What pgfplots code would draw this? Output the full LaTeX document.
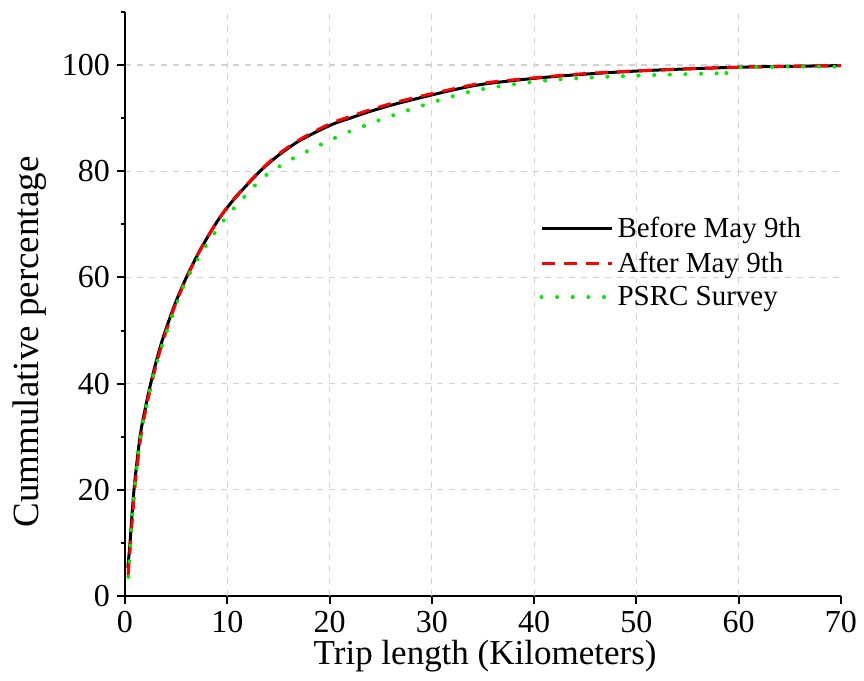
\documentclass[border=0pt]{standalone}
\usepackage{fontspec}
\setmainfont{Liberation Serif}
\usepackage{pgfplots}
\pgfplotsset{compat=1.18}
\definecolor{psrc}{RGB}{0,235,0}
\begin{document}
\begin{tikzpicture}
\begin{axis}[
  scale only axis,
  width=358pt, height=292pt,
  xmin=0, xmax=70, ymin=0, ymax=110,
  axis x line*=bottom, axis y line*=left,
  axis line style={-, line width=1pt},
  xtick={0,10,...,70}, ytick={0,20,...,100},
  minor ytick={10,30,...,110},
  tick align=outside,
  major tick length=4pt, minor tick length=2pt,
  tick style={line width=1pt, black},
  xmajorgrids=false, ymajorgrids=true,
  extra x ticks={10,20,...,60},
  extra x tick labels={},
  extra x tick style={xmajorgrids=true, major tick length=0pt},
  major grid style={dashed, gray!35, line width=0.6pt},
  /pgf/number format/assume math mode=true,
  ticklabel style={font=\fontsize{16}{18}\selectfont},
  xlabel={Trip length (Kilometers)},
  ylabel={Cummulative percentage},
  xlabel style={font=\fontsize{17.5}{20}\selectfont, at={(axis description cs:0.503,-0.103)}, anchor=center},
  ylabel style={font=\fontsize{18.5}{21}\selectfont, at={(axis description cs:-0.133,0.435)}, anchor=center},
  legend style={draw=none, fill=none, at={(0.57,0.663)}, anchor=north west,
    font=\fontsize{14.5}{17}\selectfont, row sep=1.5pt},
  legend cell align=left,
  legend image code/.code={\draw[#1] (0pt,0pt) -- (35pt,0pt);},
]
\addplot[black, line width=1.5pt, smooth, tension=0.5] coordinates {
(0.28,5.3) (0.49,10) (0.88,20) (1.47,30) (2.0,35.5) (2.51,40) (3.1,44.5) (3.75,48.8)
(4.89,55) (6.0,60) (7.3,65) (9.0,70.5) (10.6,74.6) (13.2,80) (15,83) (17.1,85.8)
(20.1,88.7) (22,90.0) (24,91.3) (26.9,92.9) (31.8,95.2) (35,96.4) (40,97.5) (45,98.3)
(51.3,99.0) (60,99.6) (70,99.9)};
\addlegendentry{Before May 9th}
\addplot[red, line width=1.5pt, dash pattern=on 6.5pt off 4.5pt, smooth, tension=0.5] coordinates {
(0.3,3.8) (0.55,10) (0.95,20) (1.55,30) (2.08,35.5) (2.6,40) (3.18,44.5) (3.85,48.8)
(4.95,55) (6.05,60) (7.3,65) (9.0,70.5) (10.6,74.7) (13.2,80.1) (15,83.2) (17.1,86.0)
(20.1,89.0) (22,90.3) (24,91.6) (26.9,93.2) (31.8,95.4) (35,96.6) (40,97.6) (45,98.4)
(51.3,99.0) (60,99.6) (70,99.9)};
\addlegendentry{After May 9th}
\addplot[psrc, line width=2pt, line cap=round, dash pattern=on 0.01pt off 7.8pt, smooth, tension=0.5] coordinates {
(0.33,3.6) (0.55,10) (0.92,20) (1.5,30) (2.03,35.3) (2.55,40) (3.15,44.2) (3.85,48.5)
(4.95,54.6) (6.0,59.5) (7.65,65.2) (9.45,70.2) (10.6,72.9) (13.2,78.3) (15,80.8)
(17,83) (20.1,85.9) (22.5,87.9) (26.9,91.0) (31.8,94.0) (35,95.5) (40.1,96.9)
(45,97.6) (51.3,98.1) (55,98.3) (58.8,98.5)};
\addlegendentry{PSRC Survey}
\addplot[psrc, line width=2pt, line cap=round, dash pattern=on 0.01pt off 7.8pt, forget plot] coordinates {
(58.8,98.5) (60,99.6) (65,99.7) (69.4,99.7)};
\end{axis}
\path (-62.5pt,-42.5pt) rectangle (369.5pt,298pt);
\end{tikzpicture}
\end{document}
